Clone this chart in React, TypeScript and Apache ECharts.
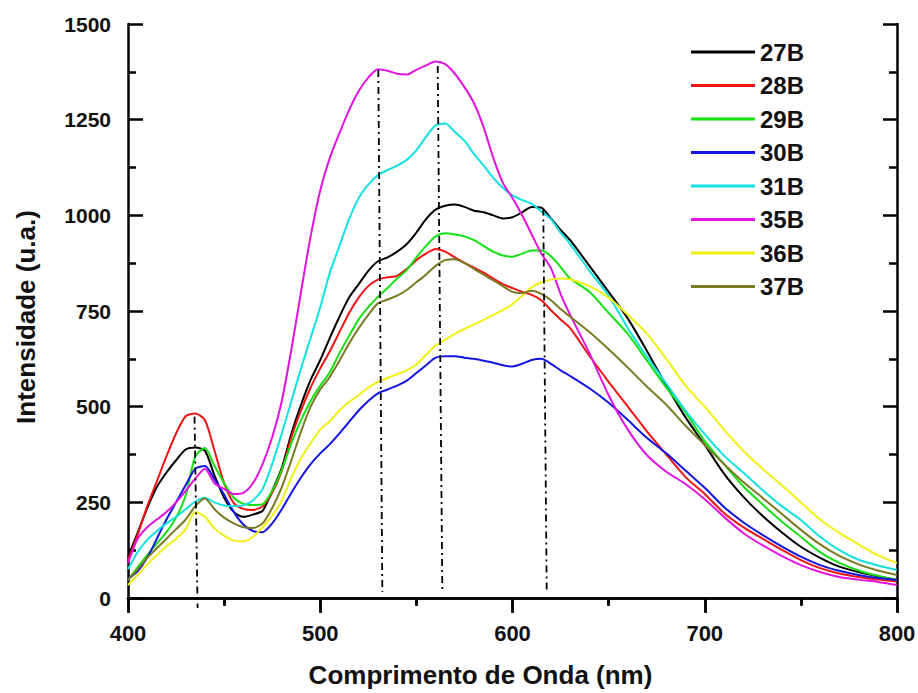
import React, { useEffect, useRef } from "react";
import * as echarts from "echarts";

// Wavelength grid (nm)
const wavelengths = [
  400, 405, 410, 415, 420, 425, 430, 435, 440, 445, 450, 455, 460, 465, 470, 475,
  480, 485, 490, 495, 500, 505, 510, 515, 520, 525, 530, 535, 540, 545, 550, 555,
  560, 565, 570, 575, 580, 585, 590, 595, 600, 605, 610, 615, 620, 625, 630,
  640, 650, 660, 670, 680, 690, 700, 710, 720, 730, 740, 750, 760, 770, 780, 790, 800,
];

const s27B = [
  108, 170, 235, 290, 328, 360, 388,
  393, 385, 320, 262, 225, 212, 218, 228,
  280, 340, 430, 505, 570, 622,
  680, 735, 785, 820, 855, 880,
  890, 905, 925, 955, 990, 1015,
  1025, 1028, 1022, 1012, 1008, 1000, 992, 995,
  1008, 1022, 1020, 992, 962, 935,
  868, 800, 730, 645, 555, 472, 400,
  325, 265, 215, 172, 134, 105, 82, 68, 57, 47,
];
const s28B = [
  99, 165, 240, 305, 370, 430, 475,
  482, 465, 385, 300, 248, 233, 230, 240,
  275, 332, 420, 490, 550, 600,
  645, 695, 745, 785, 815, 832,
  838, 842, 860, 883, 900, 912,
  905, 890, 876, 863, 850, 835, 820, 810,
  800, 792, 778, 752, 728, 705,
  633, 565, 500, 435, 375, 316, 272,
  222, 185, 155, 126, 99, 78, 64, 55, 48, 43,
];
const s29B = [
  47, 80, 112, 142, 172, 210, 268,
  370, 392, 345, 300, 262, 246, 243, 245,
  280, 335, 405, 465, 515, 555,
  590, 640, 685, 728, 760, 787,
  810, 835, 857, 890, 920, 945,
  953, 950, 945, 935, 920, 905, 895, 892,
  900, 908, 908, 893, 865, 835,
  800, 745, 690, 620, 550, 485, 410,
  350, 292, 245, 200, 160, 120, 92, 72, 58, 47,
];
const s30B = [
  50, 70, 105, 155, 205, 250, 295,
  338, 345, 310, 270, 225, 192, 175, 172,
  195, 232, 275, 315, 350, 378,
  402, 430, 460, 490, 515, 535,
  545, 555, 568, 588, 608, 628,
  632, 632, 628, 625, 620, 615, 608, 605,
  612, 622, 625, 612, 595, 580,
  548, 510, 465, 418, 378, 333, 288,
  238, 198, 165, 135, 108, 86, 71, 60, 52, 47,
];
const s31B = [
  75, 120, 152, 175, 195, 212, 232,
  252, 262, 250, 242, 240, 242, 255, 285,
  350, 430, 515, 600, 680, 760,
  850, 920, 990, 1045, 1080, 1105,
  1118, 1130, 1145, 1170, 1205, 1235,
  1240, 1218, 1195, 1160, 1130, 1098, 1072, 1052,
  1040, 1030, 1010, 990, 955, 925,
  855, 790, 705, 630, 560, 490, 428,
  372, 328, 282, 240, 204, 160, 125, 100, 85, 73,
];
const s35B = [
  91, 155, 185, 205, 225, 250, 280,
  312, 338, 300, 285, 272, 275, 300, 350,
  420, 515, 650, 800, 945, 1065,
  1150, 1215, 1275, 1325, 1360, 1382,
  1378, 1370, 1368, 1380, 1392, 1402,
  1395, 1370, 1335, 1293, 1230, 1150, 1085, 1045,
  1000, 950, 900, 862, 795, 740,
  640, 530, 440, 373, 330, 298, 258,
  212, 170, 138, 110, 86, 68, 55, 48, 42, 34,
];
const s36B = [
  34, 60, 88, 112, 135, 155, 180,
  225, 212, 182, 163, 150, 148, 160, 185,
  215, 255, 315, 365, 405, 440,
  462, 490, 512, 530, 550, 565,
  575, 585, 595, 610, 635, 660,
  675, 690, 703, 715, 727, 740, 752, 768,
  790, 812, 825, 832, 835, 833,
  815, 785, 740, 690, 625, 555, 500,
  440, 385, 338, 295, 250, 205, 170, 140, 112, 91,
];
const s37B = [
  47, 75, 105, 130, 155, 180, 205,
  240, 260, 232, 210, 195, 185, 183, 195,
  235, 290, 360, 435, 500, 545,
  578, 620, 665, 705, 740, 770,
  780, 790, 805, 825, 845, 868,
  883, 885, 875, 860, 845, 830, 815, 800,
  797, 803, 795, 778, 755, 735,
  695, 650, 602, 552, 505, 450, 400,
  350, 303, 262, 220, 178, 140, 110, 88, 72, 60,
];

const seriesNames = ["27B", "28B", "29B", "30B", "31B", "35B", "36B", "37B"];
const seriesValues = [s27B, s28B, s29B, s30B, s31B, s35B, s36B, s37B];
const seriesColors = [
  "#000000", "#f01414", "#14e014", "#1414e0",
  "#14e0e0", "#e014e0", "#f0f014", "#7a7a22",
];

// Peak marker lines (dash-dot), in data units
const markerNmTop = [434.6, 530.2, 561.1, 616.0];
const markerNmBottom = [436.2, 532.3, 563.5, 617.8];
const markerTopValue = [474, 1380, 1390, 1018];
const markerBottomValue = [-26, 16, 16, 16];

const xTicks = { min: 400, max: 800, interval: 100 };
const yTicks = { min: 0, max: 1500, interval: 250 };

const FONT = "'Liberation Sans', Arial, Helvetica, sans-serif";

export default function App() {
  const ref = useRef<HTMLDivElement>(null);

  useEffect(() => {
    if (!ref.current) return;
    const chart = echarts.init(ref.current, null, { renderer: "svg" });

    const lineSeries = seriesNames.map((name, i) => ({
      name,
      type: "line",
      data: wavelengths.map((w, j) => [w, seriesValues[i][j]]),
      showSymbol: false,
      symbol: "none",
      smooth: 0.25,
      lineStyle: { color: seriesColors[i], width: 2 },
      itemStyle: { color: seriesColors[i] },
      z: 2,
    }));

    const markerSeries = markerNmTop.map((nm, i) => ({
      name: "marker" + i,
      type: "line",
      data: [
        [nm, markerTopValue[i]],
        [markerNmBottom[i], markerBottomValue[i]],
      ],
      symbol: "none",
      silent: true,
      clip: false,
      lineStyle: { color: "#000", width: 1.8, type: [7, 4, 2, 4] },
      z: 5,
    }));

    const axisLine = { show: true, lineStyle: { color: "#000", width: 2.5 } };

    chart.setOption({
      animation: false,
      backgroundColor: "#fff",
      textStyle: { fontFamily: FONT },
      grid: {
        left: 128,
        right: 21,
        top: 24,
        bottom: 95,
        containLabel: false,
        outerBoundsMode: "none",
      },
      legend: {
        data: seriesNames,
        orient: "vertical",
        left: 691,
        top: 38,
        padding: 0,
        icon: "rect",
        itemWidth: 64,
        itemHeight: 3,
        itemGap: 5.5,
        textStyle: {
          fontFamily: FONT,
          fontWeight: "bold",
          fontSize: 24,
          color: "#111",
          lineHeight: 28,
        },
      },
      xAxis: [
        {
          type: "value",
          position: "bottom",
          ...xTicks,
          axisLine,
          axisTick: { show: true, inside: false, length: 15, lineStyle: { color: "#000", width: 2.5 } },
          minorTick: { show: true, splitNumber: 2, length: 7, lineStyle: { color: "#000", width: 2.5 } },
          splitLine: { show: false },
          axisLabel: {
            margin: 24,
            fontFamily: FONT,
            fontWeight: "bold",
            fontSize: 22,
            color: "#111",
            formatter: (v: number) => String(v),
          },
          name: "Comprimento de Onda (nm)",
          nameLocation: "middle",
          nameGap: 64,
          nameTextStyle: {
            fontFamily: FONT,
            fontWeight: "bold",
            fontSize: 26,
            color: "#111",
            padding: [0, 64, 0, 0],
          },
        },
        {
          type: "value",
          position: "top",
          ...xTicks,
          axisLine,
          axisTick: { show: true, inside: true, length: 14, lineStyle: { color: "#000", width: 2.5 } },
          minorTick: { show: true, splitNumber: 2, length: 8, lineStyle: { color: "#000", width: 2.5 } },
          splitLine: { show: false },
          axisLabel: { show: false },
        },
      ],
      yAxis: [
        {
          type: "value",
          position: "left",
          ...yTicks,
          axisLine,
          axisTick: { show: true, inside: true, length: 15, lineStyle: { color: "#000", width: 2.5 } },
          minorTick: { show: true, splitNumber: 2, length: 8, lineStyle: { color: "#000", width: 2.5 } },
          splitLine: { show: false },
          axisLabel: {
            margin: 17,
            fontFamily: FONT,
            fontWeight: "bold",
            fontSize: 21,
            color: "#111",
            formatter: (v: number) => String(v),
          },
          name: "Intensidade (u.a.)",
          nameLocation: "middle",
          nameGap: 89,
          nameTextStyle: {
            fontFamily: FONT,
            fontWeight: "bold",
            fontSize: 26,
            color: "#111",
            padding: [0, 12, 0, 0],
          },
        },
        {
          type: "value",
          position: "right",
          ...yTicks,
          axisLine,
          axisTick: { show: true, inside: true, length: 14, lineStyle: { color: "#000", width: 2.5 } },
          minorTick: { show: true, splitNumber: 2, length: 8, lineStyle: { color: "#000", width: 2.5 } },
          splitLine: { show: false },
          axisLabel: { show: false },
        },
      ],
      series: [...lineSeries, ...markerSeries],
    });

    return () => chart.dispose();
  }, []);

  return (
    <div
      ref={ref}
      style={{ position: "fixed", left: 0, top: 0, width: 918, height: 693, background: "#fff" }}
    />
  );
}
